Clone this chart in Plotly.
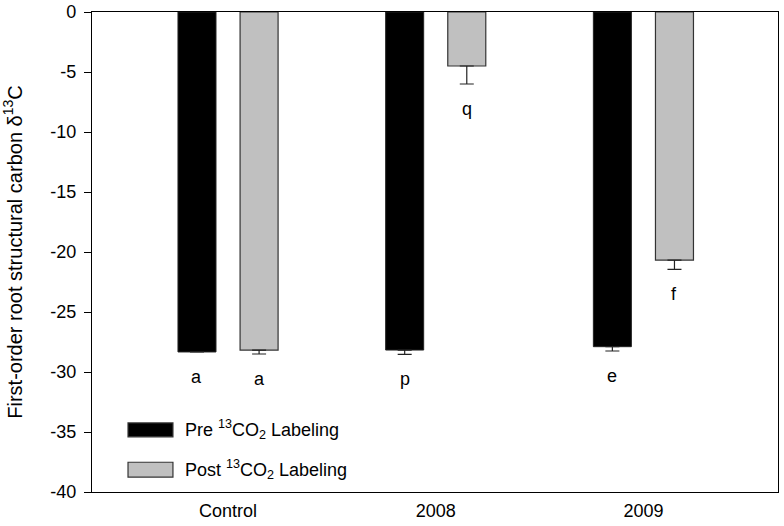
import plotly.graph_objects as go

groups = ["Control", "2008", "2009"]
pre_mean = [-28.33, -28.17, -27.89]
pre_err = [0.0, 0.36, 0.36]
post_mean = [-28.17, -4.5, -20.67]
post_err = [0.33, 1.5, 0.78]
pre_letters = ["a", "p", "e"]
post_letters = ["a", "q", "f"]
y_ticks = [0, -5, -10, -15, -20, -25, -30, -35, -40]
y_ticklabels = ["0", "-5", "-10", "-15", "-20", "-25", "-30", "-35", "-40"]
legend_names = ["Pre <sup>13</sup>CO<sub>2</sub> Labeling",
                "Post <sup>13</sup>CO<sub>2</sub> Labeling"]

FONT = "Liberation Sans, Arial, sans-serif"
BAR_W = 0.183

fig = go.Figure()
fig.add_trace(go.Bar(
    x=[0, 1, 2], y=pre_mean, width=BAR_W, offset=-0.241,
    marker=dict(color="black", line=dict(color="#222222", width=1)),
    error_y=dict(type="data", symmetric=False, array=[0, 0, 0], arrayminus=pre_err,
                 color="#222222", thickness=1.2, width=7),
    name=legend_names[0], showlegend=False))
fig.add_trace(go.Bar(
    x=[0, 1, 2], y=post_mean, width=BAR_W, offset=0.058,
    marker=dict(color="#c0c0c0", line=dict(color="#333333", width=1.2)),
    error_y=dict(type="data", symmetric=False, array=[0, 0, 0], arrayminus=post_err,
                 color="#222222", thickness=1.2, width=7),
    name=legend_names[1], showlegend=False))

# significance letters under each bar
for i in range(3):
    for xoff, m, e, lab in [(-0.241, pre_mean[i], pre_err[i], pre_letters[i]),
                            (0.058, post_mean[i], post_err[i], post_letters[i])]:
        fig.add_annotation(x=i + xoff + BAR_W / 2, y=m - e, text=lab, showarrow=False,
                           yanchor="middle", yshift=-25,
                           font=dict(size=18, color="black", family=FONT))

# hand-drawn legend
legend_boxes = [("black", 0.115, 0.144), ("#c0c0c0", 0.031, 0.062)]
for (col, y0, y1), name in zip(legend_boxes, legend_names):
    fig.add_shape(type="rect", xref="paper", yref="paper", x0=0.0525, x1=0.118,
                  y0=y0, y1=y1, fillcolor=col, line=dict(color="#333333", width=1.2))
    fig.add_annotation(xref="paper", yref="paper", x=0.132, y=(y0 + y1) / 2,
                       text=name, showarrow=False, xanchor="left", yanchor="middle",
                       font=dict(size=18, color="black", family=FONT))

fig.update_layout(
    width=784, height=526,
    margin=dict(l=92, r=6, t=12, b=34, autoexpand=False),
    plot_bgcolor="white", paper_bgcolor="white",
    font=dict(family=FONT, size=18, color="black"),
    barmode="overlay",
)
fig.update_xaxes(range=[-0.655, 2.648], tickvals=[0, 1, 2], ticktext=groups,
                 showline=True, linecolor="black", linewidth=1.2, mirror=True,
                 ticks="", showgrid=False, zeroline=False, ticklabelstandoff=2,
                 tickfont=dict(size=18))
fig.update_yaxes(range=[-40, 0], tickvals=y_ticks, ticktext=y_ticklabels,
                 showline=True, linecolor="black", linewidth=1.2, mirror=True,
                 ticks="outside", ticklen=7, tickcolor="black", showgrid=False,
                 zeroline=False, tickfont=dict(size=18), ticklabelstandoff=4,
                 ticklabeloverflow="allow", automargin=True,
                 title=dict(text="First-order root structural carbon δ<sup>13</sup>C",
                            font=dict(size=20), standoff=22))

# drop the page's default body margin so the figure sits at the window corner
fig.write_html("out.html", config={"displayModeBar": False},
               post_script="document.body.style.margin='0px';")
